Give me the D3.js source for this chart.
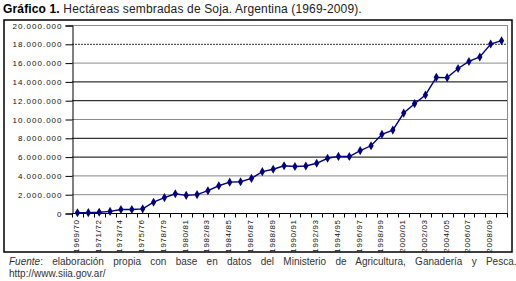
<!DOCTYPE html>
<html>
<head>
<meta charset="utf-8">
<script src="https://cdn.jsdelivr.net/npm/d3@7"></script>
<style>
	body { margin: 0; background: #fff; }
	svg { display: block; font-family: Arial, "Liberation Sans", sans-serif; }
</style>
</head>
<body>
<script>
(function () {
	"use strict";

	// campañas (one season between 1975/76 and 1978/79 is 1977/78)
	var seasons = [
		"1969/70", "1970/71", "1971/72", "1972/73", "1973/74", "1974/75", "1975/76", "1977/78",
		"1978/79", "1979/80", "1980/81", "1981/82", "1982/83", "1983/84", "1984/85", "1985/86",
		"1986/87", "1987/88", "1988/89", "1989/90", "1990/91", "1991/92", "1992/93", "1993/94",
		"1994/95", "1995/96", "1996/97", "1997/98", "1998/99", "1999/00", "2000/01", "2001/02",
		"2002/03", "2003/04", "2004/05", "2005/06", "2006/07", "2007/08", "2008/09", "2009/10"
	];

	var hectares = [
		30000, 38000, 80000, 170000, 377000, 370000, 443000, 1150000,
		1640000, 2050000, 1880000, 1960000, 2370000, 2900000, 3280000, 3320000,
		3680000, 4400000, 4650000, 5030000, 4950000, 5000000, 5290000, 5820000,
		6020000, 6010000, 6640000, 7150000, 8380000, 8820000, 10630000, 11630000,
		12560000, 14430000, 14400000, 15370000, 16120000, 16600000, 17980000, 18330000
	];

	var yTicks = d3.range(0, 20000001, 2000000);

	var W = 516, H = 281;
	var left = 72, right = 507, top = 25, bottom = 213;

	var svg = d3.select("body").append("svg")
		.attr("width", W)
		.attr("height", H);

	// titulo
	var title = svg.append("text")
		.attr("x", 3)
		.attr("y", 13)
		.attr("font-size", 12)
		.attr("letter-spacing", 0.15)
		.attr("fill", "#222");
	title.append("tspan").attr("font-weight", "bold").attr("fill", "#000").text("Gráfico 1.");
	title.append("tspan").text(" Hectáreas sembradas de Soja. Argentina (1969-2009).");

	// marco
	svg.append("rect")
		.attr("x", 4)
		.attr("y", 20)
		.attr("width", 508)
		.attr("height", 232)
		.attr("fill", "none")
		.attr("stroke", "#000")
		.attr("stroke-width", 1.5);

	var xScale = d3.scaleBand()
		.domain(seasons)
		.range([left, right]);

	var yScale = d3.scaleLinear()
		.domain([0, 20000000])
		.range([bottom, top]);

	var loc = d3.formatLocale({ decimal: ",", thousands: ".", grouping: [3], currency: ["$", ""] });
	var fmt = loc.format(",d");

	// grid
	var dark = [6000000, 8000000, 12000000, 14000000];
	svg.append("g").selectAll("line")
		.data(yTicks.filter((d) => d > 0))
		.enter().append("line")
		.attr("x1", left)
		.attr("x2", right)
		.attr("y1", (d) => yScale(d) + 0.5)
		.attr("y2", (d) => yScale(d) + 0.5)
		.attr("stroke", (d) => dark.indexOf(d) >= 0 ? "#000" : (d === 18000000 ? "#333" : "#8a8a8a"))
		.attr("stroke-dasharray", (d) => d === 18000000 ? "2,1" : null)
		.attr("stroke-width", 1);

	// borde derecho del área
	svg.append("line")
		.attr("x1", right + 0.5).attr("x2", right + 0.5)
		.attr("y1", top).attr("y2", bottom)
		.attr("stroke", "#8a8a8a");

	// eje y
	var yAxis = d3.axisLeft(yScale)
		.tickValues(yTicks)
		.tickFormat(fmt)
		.tickSize(7)
		.tickPadding(3);

	var gy = svg.append("g")
		.attr("transform", "translate(" + (left + 0.5) + ",0.5)")
		.call(yAxis);
	gy.select(".domain").attr("stroke", "#000");
	gy.selectAll("text")
		.attr("font-size", 8)
		.attr("letter-spacing", 1)
		.attr("fill", "#111")
		.attr("font-family", "Arial, 'Liberation Sans', sans-serif");

	// eje x
	var gx = svg.append("g")
		.attr("transform", "translate(0," + (bottom + 0.5) + ")");
	gx.append("line")
		.attr("x1", left).attr("x2", right + 1)
		.attr("stroke", "#000");
	gx.selectAll(".tk")
		.data(seasons.concat([null]))
		.enter().append("line")
		.attr("class", "tk")
		.attr("x1", (d, i) => Math.round(left + i * xScale.step()) + 0.5)
		.attr("x2", (d, i) => Math.round(left + i * xScale.step()) + 0.5)
		.attr("y1", 0).attr("y2", 4)
		.attr("stroke", "#000");
	gx.selectAll(".lb")
		.data(seasons.filter((d, i) => i % 2 === 0))
		.enter().append("text")
		.attr("class", "lb")
		.attr("transform", (d) => "translate(" + (xScale(d) + xScale.bandwidth() / 2 + 1.5) + ",6) rotate(-90)")
		.attr("text-anchor", "end")
		.attr("font-size", 8)
		.attr("letter-spacing", 0.6)
		.attr("fill", "#111")
		.text((d) => d);

	// serie
	var lineFun = d3.line()
		.x((d, i) => xScale(seasons[i]) + xScale.bandwidth() / 2)
		.y((d) => yScale(d));

	svg.append("path")
		.attr("d", lineFun(hectares))
		.attr("fill", "none")
		.attr("stroke", "#000080")
		.attr("stroke-width", 1.4);

	svg.append("g").selectAll("path")
		.data(hectares)
		.enter().append("path")
		.attr("transform", (d, i) => "translate(" + (xScale(seasons[i]) + xScale.bandwidth() / 2) + "," + yScale(d) + ")")
		.attr("d", d3.symbol(d3.symbolDiamond, 24))
		.attr("fill", "#000080");

	// fuente
	var src = svg.append("text")
		.attr("x", 9)
		.attr("y", 265)
		.attr("font-size", 10)
		.attr("fill", "#333");
	src.append("tspan").attr("font-style", "italic").text("Fuente");
	src.append("tspan").text(": elaboración propia con base en datos del Ministerio de Agricultura, Ganadería y Pesca.");
	var len = src.node().getComputedTextLength();
	var gaps = 12;
	src.attr("word-spacing", Math.max(0, (510 - 9 - len) / gaps));

	svg.append("text")
		.attr("x", 9)
		.attr("y", 277)
		.attr("font-size", 10)
		.attr("fill", "#333")
		.text("http://www.siia.gov.ar/");
})();
</script>
</body>
</html>
